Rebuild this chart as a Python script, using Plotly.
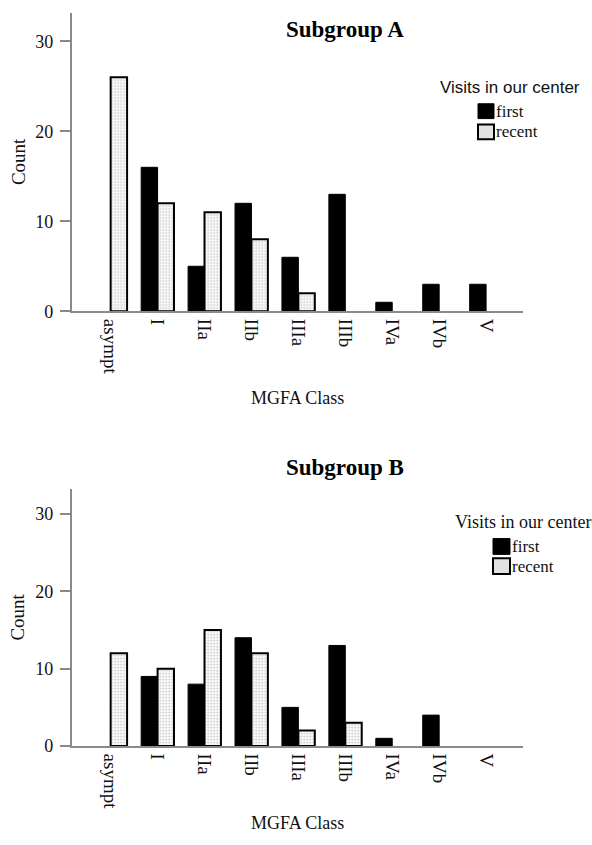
import plotly.graph_objects as go

# ---------------- data ----------------
categories = ["asympt", "I", "IIa", "IIb", "IIIa", "IIIb", "IVa", "IVb", "V"]
a_first = [0, 16, 5, 12, 6, 13, 1, 3, 3]
a_recent = [26, 12, 11, 8, 2, 0, 0, 0, 0]
b_first = [0, 9, 8, 14, 5, 13, 1, 4, 0]
b_recent = [12, 10, 15, 12, 2, 3, 0, 0, 0]
y_ticks = [0, 10, 20, 30]
series_names = ["first", "recent"]
panel_titles = ["Subgroup A", "Subgroup B"]
x_title = "MGFA Class"
y_title = "Count"
legend_title = "Visits in our center"

# ---------------- layout helpers ----------------
W, H = 592, 845
SERIF = "Liberation Serif, Times New Roman, serif"
SANS = "Liberation Sans, Arial, sans-serif"
AXIS_GREY = "#8a8a8a"


def px(x):
    return x / W


def py(y):
    return 1 - y / H


def nz(vals):
    return [v if v != 0 else None for v in vals]


first_style = dict(color="black", line=dict(color="black", width=1))
recent_style = dict(
    color="white",
    line=dict(color="black", width=2),
    pattern=dict(shape=".", fgcolor="#8f8f8f", bgcolor="white", size=3, solidity=0.35),
)

fig = go.Figure()
for (fv, rv, xa, ya) in [(a_first, a_recent, "x", "y"), (b_first, b_recent, "x2", "y2")]:
    fig.add_trace(go.Bar(x=categories, y=nz(fv), name=series_names[0], marker=first_style,
                         xaxis=xa, yaxis=ya, showlegend=False))
    fig.add_trace(go.Bar(x=categories, y=nz(rv), name=series_names[1], marker=recent_style,
                         xaxis=xa, yaxis=ya, showlegend=False))

xdom = [px(71.7), px(522.7)]
common_x = dict(
    type="category", range=[-0.83, 8.78], showline=True, linecolor=AXIS_GREY, linewidth=1.5,
    ticks="", tickangle=90, tickfont=dict(family=SERIF, size=19, color="#111"),
    showgrid=False, zeroline=False, ticklabelstandoff=2,
)
common_y = dict(
    range=[0, 33.2], tickvals=y_ticks, ticks="outside", ticklen=10, tickcolor=AXIS_GREY,
    tickwidth=1.5, showline=True, linecolor=AXIS_GREY, linewidth=1.5, showgrid=False,
    zeroline=False, tickfont=dict(family=SERIF, size=18, color="#111"), ticklabelstandoff=3,
)

fig.update_layout(
    width=W, height=H, margin=dict(l=0, r=0, t=0, b=0),
    paper_bgcolor="white", plot_bgcolor="white",
    barmode="group", bargap=0.30, bargroupgap=0.0, showlegend=False,
    xaxis=dict(domain=xdom, anchor="y", **common_x),
    yaxis=dict(domain=[py(315), py(12.7)], anchor="x", **common_y),
    xaxis2=dict(domain=xdom, anchor="y2", **common_x),
    yaxis2=dict(domain=[py(755), py(495)], anchor="x2", **common_y),
)

ann = []
shapes = []
# panel titles / axis titles
for i, (ty, count_y, xt_y) in enumerate([(30, 164, 403), (473, 625, 833)]):
    ann.append(dict(text="<b>" + panel_titles[i] + "</b>", x=px(345), y=py(ty), xref="paper", yref="paper",
                    showarrow=False, font=dict(family=SERIF, size=23, color="black"),
                    xanchor="center", yanchor="middle"))
    ann.append(dict(text=y_title, x=px(18), y=py(count_y), xref="paper", yref="paper", textangle=-90,
                    showarrow=False, font=dict(family=SERIF, size=19, color="#111"),
                    xanchor="center", yanchor="middle"))
    ann.append(dict(text=x_title, x=px(297), y=py(xt_y), xref="paper", yref="paper",
                    showarrow=False, font=dict(family=SERIF, size=18, color="#111"),
                    xanchor="center", yanchor="middle"))

# manual legends
legends = [
    dict(title_xy=(510, 89), title_font=dict(family=SANS, size=17, color="#111"),
         sw_x=(478, 494), rows=[(105, 120), (126, 141)], txt_x=496),
    dict(title_xy=(523, 528), title_font=dict(family=SERIF, size=18, color="#111"),
         sw_x=(493, 510), rows=[(545, 561), (565, 581)], txt_x=512),
]
for lg in legends:
    ann.append(dict(text=legend_title, x=px(lg["title_xy"][0]), y=py(lg["title_xy"][1]), xref="paper",
                    yref="paper", showarrow=False, font=lg["title_font"], xanchor="center", yanchor="middle"))
    for j, (y0, y1) in enumerate(lg["rows"]):
        if j == 0:
            shapes.append(dict(type="rect", xref="paper", yref="paper", x0=px(lg["sw_x"][0]), x1=px(lg["sw_x"][1]),
                               y0=py(y1), y1=py(y0), fillcolor="black", line=dict(color="black", width=1)))
        else:
            shapes.append(dict(type="rect", xref="paper", yref="paper", x0=px(lg["sw_x"][0]), x1=px(lg["sw_x"][1]),
                               y0=py(y1), y1=py(y0), fillcolor="#e2e2e2", line=dict(color="black", width=2)))
        ann.append(dict(text=series_names[j], x=px(lg["txt_x"]), y=py((y0 + y1) / 2), xref="paper", yref="paper",
                        showarrow=False, font=dict(family=SERIF, size=17, color="#111"),
                        xanchor="left", yanchor="middle", xshift=-2))

fig.update_layout(annotations=ann, shapes=shapes)
fig.write_html("out.html", config={"displayModeBar": False},
               post_script="document.body.style.margin='0';document.body.style.padding='0';")
